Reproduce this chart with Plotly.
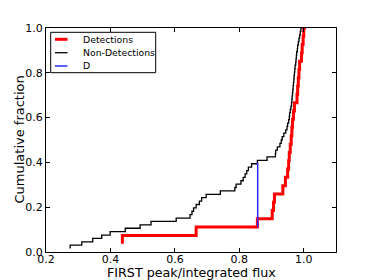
import numpy as np
import plotly.graph_objects as go

# Sorted ratios (FIRST peak/integrated flux) for each sample
det_flux = [0.437, 0.666, 0.856, 0.902, 0.906, 0.909, 0.935, 0.943, 0.950,
            0.953, 0.955, 0.958, 0.961, 0.963, 0.965, 0.968, 0.971, 0.979,
            0.981, 0.983, 0.985, 0.987, 0.993, 0.995, 0.998, 1.000, 1.007]
nondet_flux = [0.275, 0.311, 0.345, 0.373, 0.399, 0.446, 0.492, 0.526, 0.604,
               0.647, 0.653, 0.658, 0.666, 0.676, 0.683, 0.697, 0.741, 0.786,
               0.790, 0.805, 0.812, 0.818, 0.823, 0.828, 0.838, 0.856, 0.886,
               0.912, 0.913, 0.918, 0.926, 0.930, 0.933, 0.938, 0.944, 0.948,
               0.950, 0.953, 0.955, 0.956, 0.958, 0.960, 0.962, 0.963, 0.964,
               0.965, 0.966, 0.967, 0.968, 0.969, 0.970, 0.971, 0.972, 0.973,
               0.975, 0.976, 0.977, 0.978, 0.980, 0.981, 0.983, 0.985, 0.987,
               0.989, 0.991, 0.995]
d_x = [0.857, 0.857]
d_y = [0.111, 0.400]

series_names = ["Detections", "Non-Detections", "D"]
x_ticks = [0.2, 0.4, 0.6, 0.8, 1.0]
x_ticklabels = ["0.2", "0.4", "0.6", "0.8", "1.0"]
y_ticks = [0.0, 0.2, 0.4, 0.6, 0.8, 1.0]
y_ticklabels = ["0.0", "0.2", "0.4", "0.6", "0.8", "1.0"]

det_cum = np.arange(1, len(det_flux) + 1) / len(det_flux)
nondet_cum = np.arange(1, len(nondet_flux) + 1) / len(nondet_flux)

font = "DejaVu Sans"
styles = [dict(color="#ff0000", width=3),
          dict(color="#000000", width=1.3),
          dict(color="#2a2aff", width=1.5)]

fig = go.Figure()
fig.add_trace(go.Scatter(x=det_flux, y=det_cum, mode="lines", name=series_names[0],
                         showlegend=False, line=dict(shape="vh", **styles[0])))
fig.add_trace(go.Scatter(x=nondet_flux, y=nondet_cum, mode="lines", name=series_names[1],
                         showlegend=False, line=dict(shape="vh", **styles[1])))
fig.add_trace(go.Scatter(x=d_x, y=d_y, mode="lines", name=series_names[2],
                         showlegend=False, line=styles[2]))

axis_common = dict(showgrid=False, zeroline=False, showline=True, linecolor="black",
                   linewidth=1, mirror="allticks", ticks="inside", ticklen=4,
                   tickcolor="black", automargin=False,
                   tickfont=dict(family=font, size=11, color="black"))
fig.update_xaxes(range=[0.2, 1.1], tickvals=x_ticks, ticktext=x_ticklabels,
                 ticklabelstandoff=-3, **axis_common)
fig.update_yaxes(range=[0, 1.0], tickvals=y_ticks, ticktext=y_ticklabels,
                 **axis_common)

# plot area in page pixels (the page body adds an 8px offset)
PL, PR, PT, PB = 46, 336, 28, 252
def px(sx):
    return (sx - PL) / (PR - PL)
def py(sy):
    return (PB - sy) / (PB - PT)

annotations = [
    dict(text="FIRST peak/integrated flux", x=0.5, y=py(272.5), xref="paper", yref="paper",
         xanchor="center", yanchor="middle", showarrow=False,
         font=dict(family=font, size=12.7, color="black")),
    dict(text="Cumulative fraction", x=px(18.5), y=0.5, xref="paper", yref="paper",
         xanchor="center", yanchor="middle", showarrow=False, textangle=-90,
         font=dict(family=font, size=13, color="black")),
]
shapes = [dict(type="rect", xref="paper", yref="paper", x0=px(50.7), x1=px(155.7),
               y0=py(72.7), y1=py(32.3), line=dict(color="black", width=1),
               fillcolor="white", layer="above")]
row_y = [39.3, 52.7, 66.0]
for name, st, ry in zip(series_names, styles, row_y):
    shapes.append(dict(type="line", xref="paper", yref="paper", x0=px(55), x1=px(67.5),
                       y0=py(ry), y1=py(ry), line=dict(color=st["color"], width=st["width"]),
                       layer="above"))
    annotations.append(dict(text=name, x=px(81), y=py(ry), xref="paper", yref="paper",
                            xanchor="left", yanchor="middle", showarrow=False,
                            font=dict(family=font, size=9.3, color="black")))

fig.update_layout(
    template="none",
    width=366, height=272,
    margin=dict(l=PL - 8, r=374 - PR, t=PT - 8, b=280 - PB),
    plot_bgcolor="white", paper_bgcolor="white",
    font=dict(family=font, color="black"),
    showlegend=False,
    annotations=annotations,
    shapes=shapes,
)
fig.write_html("out.html")
